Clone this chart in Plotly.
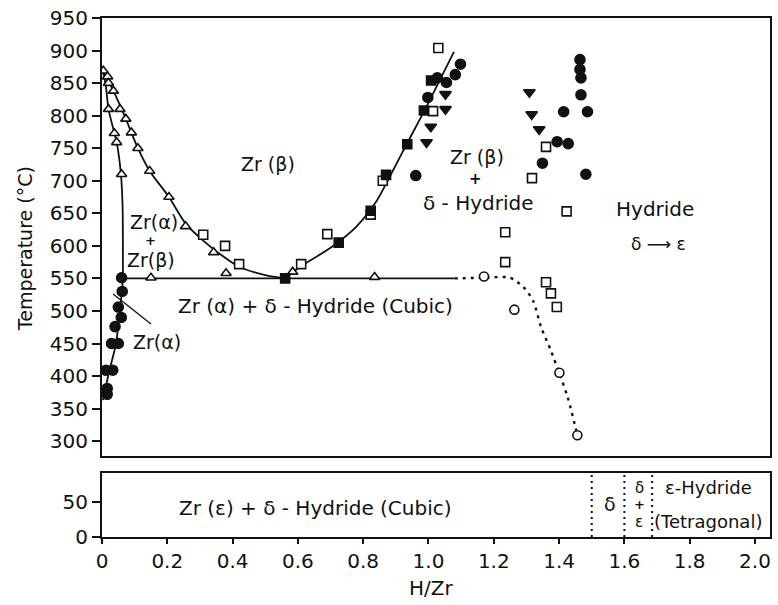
import plotly.graph_objects as go

# ---------------- measured points (H/Zr, temperature in degC) ----------------
open_tri_x = [0.004, 0.017, 0.02, 0.035, 0.02, 0.055, 0.073, 0.09, 0.038, 0.045,
              0.11, 0.06, 0.146, 0.205, 0.256, 0.342, 0.38, 0.15, 0.584, 0.835]
open_tri_t = [869, 860, 850, 838, 810, 810, 795, 774, 773, 759,
              750, 710, 715, 675, 630, 590, 558, 551, 560, 552]

open_sq_x = [0.31, 0.377, 0.42, 0.61, 0.69, 0.823, 0.86, 1.014, 1.03, 1.36,
             1.317, 1.423, 1.235, 1.235, 1.36, 1.375, 1.393]
open_sq_t = [617, 600, 572, 572, 618, 648, 700, 807, 904, 752,
             704, 653, 621, 575, 544, 527, 506]

filled_sq_x = [0.561, 0.725, 0.823, 0.87, 0.935, 0.986, 1.008]
filled_sq_t = [550, 605, 654, 709, 756, 808, 854]

filled_circ_x = [0.06, 0.062, 0.05, 0.059, 0.04, 0.029, 0.05, 0.012, 0.033, 0.016, 0.016,
                 1.098, 1.082, 1.027, 1.055, 0.998, 0.961,
                 1.464, 1.464, 1.467, 1.467, 1.414, 1.487, 1.394, 1.428, 1.349, 1.482]
filled_circ_t = [551, 530, 506, 490, 476, 450, 450, 409, 409, 381, 372,
                 879, 863, 858, 851, 828, 708,
                 886, 871, 858, 832, 806, 806, 760, 757, 727, 710]

down_tri_x = [1.052, 1.052, 1.007, 0.994, 1.309, 1.316, 1.339]
down_tri_t = [833, 810, 783, 759, 836, 802, 779]

open_circ_x = [1.17, 1.263, 1.401, 1.456]
open_circ_t = [553, 502, 405, 309]

# ---------------- phase boundaries ----------------
# alpha / (alpha+beta)
ab_left_x = [0.003, 0.012, 0.02, 0.038, 0.045, 0.058, 0.063, 0.064, 0.064]
ab_left_t = [868, 845, 810, 773, 759, 710, 662, 600, 550]
# (alpha+beta) / beta
ab_right_x = [0.003, 0.035, 0.073, 0.11, 0.146, 0.205, 0.255, 0.31, 0.36, 0.42, 0.5, 0.56]
ab_right_t = [868, 838, 795, 750, 715, 675, 635, 608, 588, 568, 555, 550]
# beta / (beta+delta)
bd_x = [0.56, 0.61, 0.70, 0.78, 0.84, 0.88, 0.935, 0.99, 1.04, 1.078]
bd_t = [550, 569, 597, 630, 668, 705, 758, 810, 860, 898]
# hydrogen solvus in alpha
solvus_x = [0.064, 0.06, 0.052, 0.043, 0.023, 0.003]
solvus_t = [550, 525, 490, 450, 409, 363]
# eutectoid isotherm
eut_x = [0.064, 1.08]
eut_t = [550, 550]
# estimated delta boundary (dotted)
dlt_x = [1.08, 1.17, 1.25, 1.29, 1.32, 1.345, 1.375, 1.40, 1.426, 1.456]
dlt_t = [550, 551, 551, 537, 516, 475, 439, 405, 368, 309]

# lower strip: phase-field separators at room temperature
sep_x = [1.50, 1.60, 1.685]

x_ticks = [0, 0.2, 0.4, 0.6, 0.8, 1.0, 1.2, 1.4, 1.6, 1.8, 2.0]
x_tick_text = ["0", "0.2", "0.4", "0.6", "0.8", "1.0", "1.2", "1.4", "1.6", "1.8", "2.0"]
t_ticks = list(range(300, 951, 50))
low_ticks = [0, 50]

FONT = "DejaVu Sans, Verdana, sans-serif"
INK = "#111111"

fig = go.Figure()

def curve(x, y, dash="solid", width=1.8, shape="spline"):
    fig.add_trace(go.Scatter(x=x, y=y, mode="lines", xaxis="x", yaxis="y",
                             line=dict(color=INK, width=width, dash=dash, shape=shape,
                                       smoothing=0.8),
                             hoverinfo="skip", showlegend=False))

curve(ab_left_x, ab_left_t)
curve(ab_right_x, ab_right_t)
curve(bd_x, bd_t)
curve(solvus_x, solvus_t)
curve(eut_x, eut_t, shape="linear")
curve(dlt_x, dlt_t, dash="3px,5px", width=2.4)

def pts(x, y, symbol, size=9, filled=False):
    fig.add_trace(go.Scatter(
        x=x, y=y, mode="markers", xaxis="x", yaxis="y",
        marker=dict(symbol=symbol, size=size,
                    color=INK if filled else "white",
                    line=dict(color=INK, width=1.6)),
        showlegend=False))

pts(open_tri_x, open_tri_t, "triangle-up", 9)
pts(open_sq_x, open_sq_t, "square", 9)
pts(open_circ_x, open_circ_t, "circle", 9)
pts(filled_sq_x, filled_sq_t, "square", 9, True)
pts(filled_circ_x, filled_circ_t, "circle", 10, True)
pts(down_tri_x, down_tri_t, "triangle-down", 10, True)

# leader line for the Zr(alpha) field
fig.add_trace(go.Scatter(x=[0.034, 0.15], y=[526, 480], mode="lines",
                         xaxis="x", yaxis="y", line=dict(color=INK, width=1.3),
                         hoverinfo="skip", showlegend=False))

# dotted separators in the lower strip
for sx in sep_x:
    fig.add_trace(go.Scatter(x=[sx, sx], y=[0, 92], mode="lines",
                             xaxis="x2", yaxis="y2",
                             line=dict(color=INK, width=2, dash="2px,4px"),
                             hoverinfo="skip", showlegend=False))

ann = []
def label(x, y, text, size=20, ref="", **kw):
    ann.append(dict(x=x, y=y, xref="x" + ref, yref="y" + ref, text=text,
                    showarrow=False, font=dict(family=FONT, size=size, color=INK), **kw))

label(0.16, 636, "Zr(α)", 19)
label(0.15, 608, "<b>+</b>", 13)
label(0.151, 579, "Zr(β)", 19)
label(0.168, 452, "Zr(α)", 19)
label(0.508, 725, "Zr (β)", 19)
label(1.15, 736, "Zr (β)", 19)
label(1.143, 703, "<b>+</b>", 15)
label(1.153, 666, "δ - Hydride", 20)
label(1.693, 657, "Hydride", 20)
label(1.706, 603, "δ ⟶ ε", 17)
label(0.653, 508, "Zr (α) + δ - Hydride (Cubic)", 20)

label(0.653, 41, "Zr (ε) + δ - Hydride (Cubic)", 20, "2")
label(1.555, 47, "δ", 19, "2")
label(1.645, 70, "δ", 15, "2")
label(1.645, 46, "<b>+</b>", 13, "2")
label(1.645, 21, "ε", 15, "2")
label(1.857, 71, "ε-Hydride", 18, "2")
label(1.857, 22, "(Tetragonal)", 18, "2")

# axis titles
ann.append(dict(x=-0.115, y=0.555, xref="paper", yref="paper", text="Temperature (°C)",
                textangle=-90, showarrow=False, xanchor="center", yanchor="middle",
                font=dict(family=FONT, size=19, color=INK)))
ann.append(dict(x=0.492, y=-0.098, xref="paper", yref="paper", text="H/Zr",
                showarrow=False, xanchor="center", yanchor="middle",
                font=dict(family=FONT, size=20, color=INK)))

axis_common = dict(showgrid=False, zeroline=False, showline=True, linecolor=INK,
                   linewidth=2, mirror=True,
                   tickfont=dict(family=FONT, size=20, color=INK))
X_RANGE = [0, 2.046]

fig.update_layout(
    width=778, height=605,
    margin=dict(l=102, r=6, t=17, b=68),
    paper_bgcolor="white", plot_bgcolor="white",
    showlegend=False,
    xaxis=dict(domain=[0, 1], range=X_RANGE, anchor="y", showticklabels=False,
               ticks="", **axis_common),
    yaxis=dict(domain=[0.1558, 1], range=[277, 950], anchor="x", tickvals=t_ticks,
               ticks="outside", ticklen=8, tickwidth=1.5, tickcolor=INK, **axis_common),
    xaxis2=dict(domain=[0, 1], range=X_RANGE, anchor="y2", tickvals=x_ticks,
                ticktext=x_tick_text, ticks="outside", ticklen=5, tickwidth=1.5,
                tickcolor=INK, **axis_common),
    yaxis2=dict(domain=[0, 0.123], range=[0, 91.4], anchor="x2", tickvals=low_ticks,
                ticks="outside", ticklen=8, tickwidth=1.5, tickcolor=INK, **axis_common),
    annotations=ann,
)

fig.write_html("out.html")
